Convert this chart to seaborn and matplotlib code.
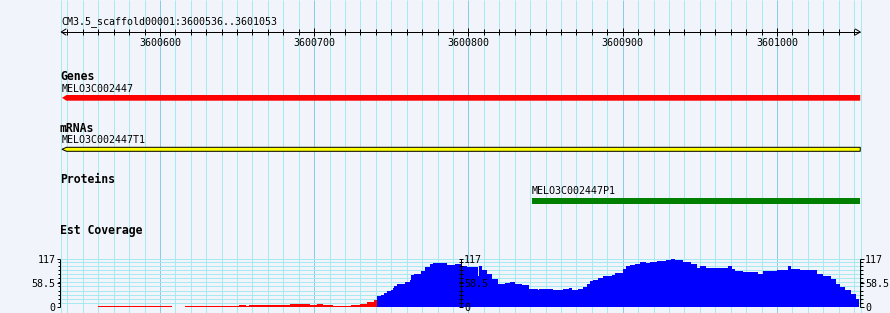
import matplotlib
matplotlib.use("Agg")
import matplotlib.pyplot as plt
import seaborn as sns
import numpy as np
import pandas as pd
from matplotlib.patches import Polygon

# ---------------- data ----------------
region_title = "CM3.5_scaffold00001:3600536..3601053"
region_start, region_end = 3600536, 3601053
ruler_major = [3600600, 3600700, 3600800, 3600900, 3601000]

gene_name = "MELO3C002447"
gene_span = [3600536, 3601053]
mrna_name = "MELO3C002447T1"
mrna_span = [3600536, 3601053]
protein_name = "MELO3C002447P1"
protein_span = [3600841, 3601053]

track_titles = ["Genes", "mRNAs", "Proteins", "Est Coverage"]

cov_max = 117
cov_labels = ["117", "58.5", "0"]
cov_label_values = [117, 58.5, 0]

red_start = [3600560, 3600608, 3600616, 3600651, 3600656, 3600658, 3600665, 3600671,
             3600684, 3600697, 3600702, 3600706, 3600712, 3600724, 3600730, 3600734,
             3600739]
red_value = [2.5, 0, 2.5, 4.5, 2.5, 4, 5.5, 6, 6.5, 4, 7, 5, 2.5, 5, 7.5, 11, 17]
red_end = 3600741

blue_start = [3600741, 3600743, 3600745, 3600747, 3600750, 3600751, 3600752, 3600754,
              3600759, 3600762, 3600763, 3600765, 3600769, 3600772, 3600775, 3600777,
              3600786, 3600791, 3600795, 3600799, 3600806, 3600807, 3600809, 3600812,
              3600815, 3600819, 3600824, 3600827, 3600830, 3600833, 3600835, 3600839,
              3600845, 3600846, 3600855, 3600861, 3600865, 3600867, 3600871, 3600874,
              3600877, 3600879, 3600881, 3600884, 3600887, 3600893, 3600895, 3600900,
              3600902, 3600905, 3600908, 3600911, 3600915, 3600918, 3600922, 3600928,
              3600931, 3600934, 3600939, 3600944, 3600948, 3600950, 3600954, 3600968,
              3600971, 3600973, 3600978, 3600988, 3600991, 3601000, 3601007, 3601009,
              3601015, 3601026, 3601030, 3601035, 3601038, 3601041, 3601044, 3601048,
              3601051]
blue_value = [26, 30, 35, 39, 42, 46, 50, 55, 60, 67,
              77, 81, 88, 97.5, 104, 107, 102, 104, 99, 97.5,
              75, 99, 89, 81, 69, 57, 59, 61, 57, 55,
              53.6, 45, 41, 43, 42, 45, 47, 42, 43, 48.75,
              57, 62.6, 67, 71.5, 75, 79, 83.7, 91.8, 99, 101.6,
              104, 109, 108, 110, 111, 115, 117, 115, 110, 104,
              96, 99, 96, 99, 93.4, 88, 85, 81, 88, 91,
              99, 93, 89, 81, 75, 69, 57, 49, 42, 32.5,
              20]
blue_end = 3601053

# ---------------- style ----------------
BG = "#f1f4fa"
GRID_MINOR = "#a6e9ef"
GRID_MAJOR = "#8ccbe6"
PX = 0.72  # one pixel in points

sns.set_theme(style="white")
plt.rcParams["font.family"] = ["DejaVu Sans Mono", "DejaVu Sans"]

W, H = 890, 313
fig = plt.figure(figsize=(W / 100, H / 100), dpi=100, facecolor=BG)

L, R = 60, 861
X0, X1 = 3600535.2, 3601054.5


def bp_of(px):
    return X0 + (px - L) * (X1 - X0) / (R - L)


BP = (X1 - X0) / (R - L)  # bp per pixel


def ftext(px, py, s, **kw):
    fig.text(px / W, 1 - py / H, s, color="black", **kw)


track = fig.add_axes([L / W, 0, (R - L) / W, 1])
track.set_xlim(X0, X1)
track.set_ylim(H, 0)
track.axis("off")
track.patch.set_visible(False)

# vertical grid
grid_pos = np.arange(3600540, 3601051, 10)
minor = [p for p in grid_pos if p % 100 != 0]
major = [p for p in grid_pos if p % 100 == 0]
track.vlines(minor, 0, H, color=GRID_MINOR, lw=PX, zorder=0)
track.vlines(major, 0, H, color=GRID_MAJOR, lw=PX, zorder=0)
track.vlines([bp_of(60.5), bp_of(860.5)], 0, H, color=GRID_MINOR, lw=PX, zorder=0, clip_on=False)

# ruler
ry = 32
r0, r1 = region_start, region_end + 1
track.plot([r0, r1], [ry, ry], color="black", lw=PX, solid_capstyle="butt")
track.plot([r0 + 4.7 * BP, r0, r0 + 4.7 * BP], [ry - 3, ry, ry + 3], color="black", lw=PX)
track.plot([r1 - 5 * BP, r1, r1 - 5 * BP], [ry - 3, ry, ry + 3], color="black", lw=PX)
track.vlines(minor, ry - 2.7, ry + 2.7, color="black", lw=PX)
track.vlines(major, ry - 4, ry + 4, color="black", lw=PX)
for m in ruler_major:
    track.text(m, 45.5, str(m), ha="center", va="baseline", fontsize=7.2, color="black")
ftext(61, 24.3, region_title, fontsize=7.2, va="baseline")

# track titles
for title, base in zip(track_titles, [80, 131.7, 183.4, 234.4]):
    ftext(60, base, title, fontsize=8.3, fontweight="bold", va="baseline")


def arrow_bar(span, y0, y1, face, edge=None):
    s, e = span[0] + 0.5, span[1] + 1
    tip = 4.5 * BP
    ym = (y0 + y1) / 2
    poly = Polygon([(s, ym), (s + tip, y0), (e, y0), (e, y1), (s + tip, y1)],
                   closed=True, facecolor=face,
                   edgecolor=edge if edge else face, lw=PX if edge else 0)
    track.add_patch(poly)


# Genes
ftext(62, 91.6, gene_name, fontsize=7.2, va="baseline")
arrow_bar(gene_span, 95, 100.7, "#ff0000")
# mRNAs
ftext(62, 143.3, mrna_name, fontsize=7.2, va="baseline")
arrow_bar(mrna_span, 147.3, 151.3, "#ffff00", edge="black")
# Proteins
track.text(protein_span[0], 194, protein_name, ha="left", va="baseline", fontsize=7.2, color="black")
track.add_patch(plt.Rectangle((protein_span[0], 198.3), protein_span[1] + 1 - protein_span[0], 5.4,
                              facecolor="#008000", lw=0))

# ---------------- coverage ----------------
cov = fig.add_axes([L / W, 6 / H, (R - L) / W, 48 / H])
cov.patch.set_visible(False)

hl = list(range(10, 111, 10)) + [cov_max]
cov.hlines(hl, X0, X1, color=GRID_MINOR, lw=PX, zorder=0)
cov.hlines([0], X0, X1, color=GRID_MAJOR, lw=PX, zorder=0)

for starts, vals, end, col in [(red_start, red_value, red_end, "#ff0000"),
                               (blue_start, blue_value, blue_end, "#0000ff")]:
    edges = list(starts) + [end]
    df = pd.DataFrame({"pos": starts, "cov": vals})
    sns.histplot(data=df, x="pos", weights="cov", bins=edges, element="step",
                 fill=True, color=col, alpha=1, linewidth=0, ax=cov, zorder=2)

cov.set_xlim(X0, X1)
cov.set_ylim(0, cov_max)
cov.axis("off")

tick_vals = list(range(0, 111, 10)) + [58.5, cov_max]
big = [0, 58.5, cov_max]
axes_x = {"left": bp_of(60), "mid": bp_of(461), "right": bp_of(860)}
for side, xa in axes_x.items():
    cov.vlines([xa], 0, cov_max, color="black", lw=PX, clip_on=False, zorder=5)
    for v in tick_vals:
        ln = 3.5 if v in big else 2.5
        if side == "left":
            a, b = xa - ln * BP, xa
        elif side == "mid":
            a, b = xa - 1.7 * BP, xa + 1.5 * BP
        else:
            a, b = xa, xa + ln * BP
        cov.hlines([v], a, b, color="black", lw=PX, clip_on=False, zorder=5)
    for lab, v in zip(cov_labels, cov_label_values):
        if side == "left":
            cov.text(bp_of(55.5), v, lab, ha="right", va="center_baseline", fontsize=7.2,
                     color="black", clip_on=False)
        else:
            off = 3 if side == "mid" else 5
            cov.text(xa + off * BP, v, lab, ha="left", va="center_baseline", fontsize=7.2,
                     color="black", clip_on=False)

fig.savefig("out.png", dpi=100, facecolor=BG)
